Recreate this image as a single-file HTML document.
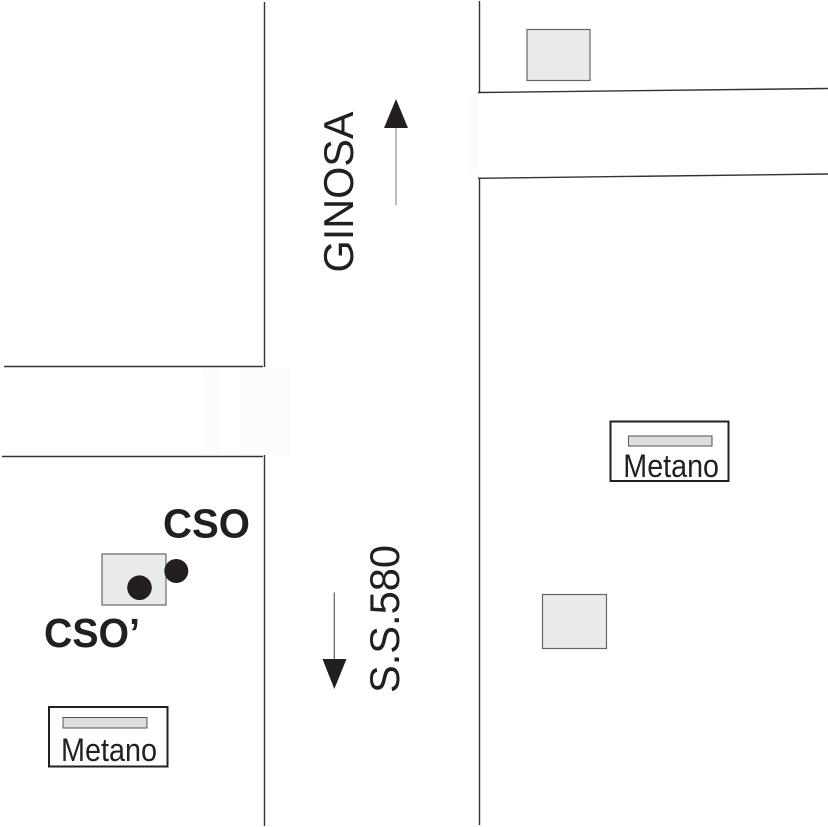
<!DOCTYPE html>
<html><head><meta charset="utf-8"><style>
html,body{margin:0;padding:0;background:#fff;}
svg{display:block;}
</style></head><body>
<svg width="828" height="827" viewBox="0 0 828 827" xmlns="http://www.w3.org/2000/svg">
<rect width="828" height="827" fill="#fff"/>
<!-- faint off-white patches -->
<rect x="203" y="369" width="17" height="86" fill="#fcfcfc"/>
<rect x="240" y="369" width="50" height="86" fill="#fcfcfc"/>
<rect x="468" y="95" width="11" height="80" fill="#fcfcfc"/>
<!-- roads -->
<g stroke="#333" stroke-width="1.4" fill="none">
<line x1="264.5" y1="2" x2="264.5" y2="367"/>
<line x1="264.5" y1="455" x2="264.5" y2="826"/>
<line x1="4" y1="366.5" x2="263" y2="366.5"/>
<line x1="2" y1="456.5" x2="263" y2="456.5"/>
<line x1="479.5" y1="1" x2="479.5" y2="93"/>
<line x1="479.5" y1="178" x2="479.5" y2="825"/>
<line x1="478" y1="92.5" x2="828" y2="88.5"/>
<line x1="478" y1="178.3" x2="828" y2="174"/>
</g>
<!-- buildings -->
<rect x="527" y="29.5" width="63" height="51" fill="#e9eaea" stroke="#666" stroke-width="1.2"/>
<rect x="542.5" y="594.5" width="64" height="54" fill="#e9eaea" stroke="#666" stroke-width="1.2"/>
<rect x="102" y="554" width="64" height="51" fill="#e9eaea" stroke="#666" stroke-width="1.2"/>
<!-- dots -->
<circle cx="139.5" cy="587.7" r="12.3" fill="#231f20"/>
<circle cx="176.3" cy="571" r="12" fill="#231f20"/>
<!-- labels -->
<text x="163" y="537.5" font-family="Liberation Sans, Arial, sans-serif" font-weight="bold" font-size="41" textLength="87" lengthAdjust="spacingAndGlyphs" fill="#231f20">CSO</text>
<text x="44" y="647" font-family="Liberation Sans, Arial, sans-serif" font-weight="bold" font-size="41" textLength="96" lengthAdjust="spacingAndGlyphs" fill="#231f20">CSO’</text>
<!-- Metano left -->
<rect x="49" y="707" width="118.5" height="59.5" fill="#fff" stroke="#231f20" stroke-width="2"/>
<rect x="63" y="717.5" width="84" height="10.5" fill="#dcdddd" stroke="#555" stroke-width="1"/>
<text x="61" y="761" font-family="Liberation Sans, Arial, sans-serif" font-size="32.5" textLength="96" lengthAdjust="spacingAndGlyphs" fill="#231f20">Metano</text>
<!-- Metano right -->
<rect x="610.5" y="421.5" width="118" height="59.5" fill="#fff" stroke="#231f20" stroke-width="2"/>
<rect x="628.5" y="436" width="83.5" height="10" fill="#dcdddd" stroke="#555" stroke-width="1"/>
<text x="623.3" y="477" font-family="Liberation Sans, Arial, sans-serif" font-size="32.5" textLength="95.7" lengthAdjust="spacingAndGlyphs" fill="#231f20">Metano</text>
<!-- GINOSA -->
<text transform="translate(353,192) rotate(-90)" text-anchor="middle" font-family="Liberation Sans, Arial, sans-serif" font-size="42" textLength="161" lengthAdjust="spacingAndGlyphs" fill="#231f20">GINOSA</text>
<line x1="396" y1="205" x2="396" y2="125" stroke="#999" stroke-width="1.3"/>
<polygon points="396,99 384,128 408,128" fill="#231f20"/>
<!-- S.S.580 -->
<text transform="translate(399,619) rotate(-90)" text-anchor="middle" font-family="Liberation Sans, Arial, sans-serif" font-size="42" textLength="148" lengthAdjust="spacingAndGlyphs" fill="#231f20">S.S.580</text>
<line x1="334.3" y1="592.5" x2="334.3" y2="662" stroke="#666" stroke-width="1.3"/>
<polygon points="334.3,689 322.5,659 346.5,659" fill="#231f20"/>
</svg>
</body></html>
